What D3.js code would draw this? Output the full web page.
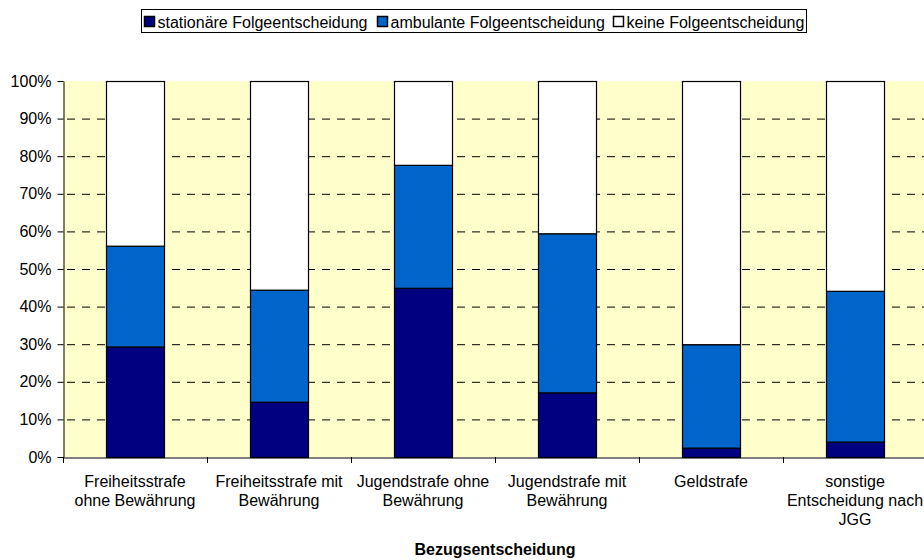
<!DOCTYPE html>
<html><head><meta charset="utf-8">
<script src="https://cdn.jsdelivr.net/npm/d3@7"></script>
<style>body{margin:0;background:#fff}svg{display:block;font-family:"Liberation Sans",Arial,sans-serif}</style>
</head><body><svg id="c" width="924" height="560"></svg>
<script>
const categories = [["Freiheitsstrafe","ohne Bewährung"],["Freiheitsstrafe mit","Bewährung"],["Jugendstrafe ohne","Bewährung"],["Jugendstrafe mit","Bewährung"],["Geldstrafe"],["sonstige","Entscheidung nach","JGG"]];
const seriesNames = ["stationäre Folgeentscheidung","ambulante Folgeentscheidung","keine Folgeentscheidung"];
const stationaer = [29.4, 14.7, 45.0, 17.2, 2.5, 4.1];
const ambulant = [26.8, 29.8, 32.7, 42.3, 27.5, 40.1];
const keine = stationaer.map((d,i)=>100-d-ambulant[i]);
const colors = ["#000080","#0066CC","#FFFFFF"];
const yTicks = [0,10,20,30,40,50,60,70,80,90,100];

const svg = d3.select("#c");
const m = {l:63, t:81, r:927, b:457};
const x = d3.scaleBand().domain(d3.range(categories.length)).range([m.l, m.r]).paddingInner(0.6).paddingOuter(0.3);
const xb = d3.scaleBand().domain(d3.range(categories.length)).range([m.l, m.r]);
const y = d3.scaleLinear().domain([0,100]).range([m.b, m.t]);

svg.append("rect").attr("x",m.l).attr("y",m.t).attr("width",m.r-m.l).attr("height",m.b-m.t).attr("fill","#FFFFCC");
svg.append("g").selectAll("line").data(yTicks.filter(d=>d>0&&d<100)).join("line")
  .attr("x1",m.l).attr("x2",m.r).attr("y1",d=>y(d)+0.5).attr("y2",d=>y(d)+0.5)
  .attr("stroke","#000").attr("stroke-width",1).attr("stroke-dasharray","8,7").attr("stroke-dashoffset",-4);

const data = categories.map((c,i)=>({i, s:stationaer[i], a:ambulant[i], k:keine[i]}));
const stack = d3.stack().keys(["s","a","k"])(data);
svg.append("g").selectAll("g").data(stack).join("g").attr("fill",(d,i)=>colors[i])
  .selectAll("rect").data(d=>d).join("rect")
  .attr("x",d=>Math.round(x(d.data.i))+0.5).attr("width",Math.round(x.bandwidth()))
  .attr("y",d=>y(d[1])+0.5).attr("height",d=>y(d[0])-y(d[1]))
  .attr("stroke","#000").attr("stroke-width",1.2);

const ya = svg.append("g").attr("transform",`translate(${m.l+0.5},0)`)
  .call(d3.axisLeft(y).tickValues(yTicks).tickFormat(d=>d+"%").tickSize(6).tickPadding(6).tickSizeOuter(0));
ya.select(".domain").attr("stroke","#000");
ya.selectAll("text").attr("font-size",16).attr("fill","#000").attr("font-family","Liberation Sans, Arial, sans-serif");
ya.selectAll("line").attr("stroke","#000");

const xa = svg.append("g").attr("transform",`translate(0,${m.b+0.5})`)
  .call(d3.axisBottom(xb).tickValues([]).tickSizeOuter(0));
xa.select(".domain").attr("stroke","#000");
svg.append("g").selectAll("line").data(d3.range(categories.length+1)).join("line")
  .attr("x1",d=>m.l+d*xb.step()+0.5).attr("x2",d=>m.l+d*xb.step()+0.5)
  .attr("y1",m.b).attr("y2",m.b+6).attr("stroke","#000");

const lab = svg.append("g").selectAll("text").data(categories).join("text")
  .attr("x",(d,i)=>xb(i)+xb.bandwidth()/2).attr("y",487)
  .attr("text-anchor","middle").attr("font-size",16).attr("fill","#000");
lab.selectAll("tspan").data(d=>d).join("tspan")
  .attr("x",function(){return this.parentNode.getAttribute("x");})
  .attr("dy",(d,i)=>i===0?0:19).text(d=>d);

svg.append("text").attr("x",495).attr("y",555).attr("text-anchor","middle")
  .attr("font-size",16).attr("font-weight","bold").text("Bezugsentscheidung");

// legend
const lg = svg.append("g");
lg.append("rect").attr("x",141.5).attr("y",9.5).attr("width",665).attr("height",23).attr("fill","#fff").attr("stroke","#000");
const lx = [144, 377, 613];
seriesNames.forEach((n,i)=>{
  lg.append("rect").attr("x",lx[i]+0.5).attr("y",16.5).attr("width",10).attr("height",10).attr("fill",colors[i]).attr("stroke","#000").attr("stroke-width",1.5);
  lg.append("text").attr("x",lx[i]+13.5).attr("y",27.5).attr("font-size",16).text(n);
});
</script></body></html>
